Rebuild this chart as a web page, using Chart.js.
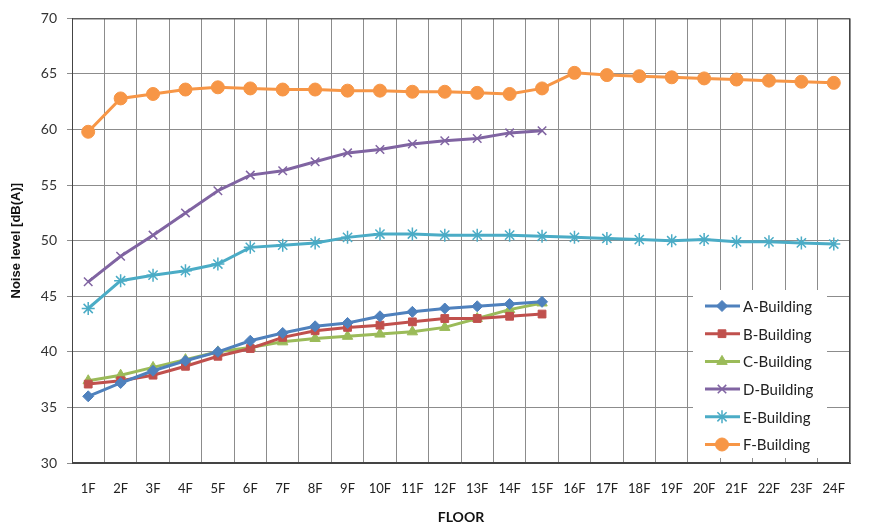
<!DOCTYPE html>
<html>
<head>
<meta charset="utf-8">
<script src="https://cdn.jsdelivr.net/npm/chart.js@4.4.1/dist/chart.umd.min.js"></script>
<style>
  html, body { margin: 0; padding: 0; background: #fff; }
  #wrap { width: 880px; height: 530px; }
</style>
</head>
<body>
<div id="wrap"><canvas id="noiseChart" width="880" height="530"></canvas></div>
<script>
// floor noise levels
var floors = ['1F','2F','3F','4F','5F','6F','7F','8F','9F','10F','11F','12F',
              '13F','14F','15F','16F','17F','18F','19F','20F','21F','22F','23F','24F'];
var yTicks = [30, 35, 40, 45, 50, 55, 60, 65, 70];

var aBuilding = [36.0, 37.2, 38.3, 39.2, 40.0, 41.0, 41.7, 42.3, 42.6, 43.2, 43.6, 43.9, 44.1, 44.3, 44.5];
var bBuilding = [37.1, 37.4, 37.9, 38.7, 39.6, 40.3, 41.3, 41.9, 42.2, 42.4, 42.7, 43.0, 43.0, 43.2, 43.4];
var cBuilding = [37.4, 37.9, 38.6, 39.3, 40.0, 40.4, 40.9, 41.2, 41.4, 41.6, 41.8, 42.2, 43.0, 43.8, 44.4];
var dBuilding = [46.3, 48.6, 50.5, 52.5, 54.5, 55.9, 56.3, 57.1, 57.9, 58.2, 58.7, 59.0, 59.2, 59.7, 59.9];
var eBuilding = [43.9, 46.4, 46.9, 47.3, 47.9, 49.4, 49.6, 49.8, 50.3, 50.6, 50.6, 50.5, 50.5, 50.5, 50.4,
                 50.3, 50.2, 50.1, 50.0, 50.1, 49.9, 49.9, 49.8, 49.7];
var fBuilding = [59.8, 62.8, 63.2, 63.6, 63.8, 63.7, 63.6, 63.6, 63.5, 63.5, 63.4, 63.4, 63.3, 63.2, 63.7,
                 65.1, 64.9, 64.8, 64.7, 64.6, 64.5, 64.4, 64.3, 64.2];

function series(label, data, color, style, radius) {
    return {
        label: label,
        data: data,
        borderColor: color,
        backgroundColor: color,
        pointBackgroundColor: color,
        pointBorderColor: color,
        pointStyle: style,
        pointRadius: radius,
        pointBorderWidth: (style === 'crossRot' || style === 'star') ? 1.5 : 1,
        borderWidth: 3,
        tension: 0
    };
}

var datasets = [
    series('A-Building', aBuilding, '#4F81BD', 'rectRot', 5.5),
    series('B-Building', bBuilding, '#C0504D', 'rect', 5.5),
    series('C-Building', cBuilding, '#9BBB59', 'triangle', 6),
    series('D-Building', dBuilding, '#8064A2', 'crossRot', 6),
    series('E-Building', eBuilding, '#4BACC6', 'star', 6.5),
    series('F-Building', fBuilding, '#F79646', 'circle', 6.5)
];

// plot frame + legend box inside the plot area, like the Excel original
var frameAndLegend = {
    id: 'frameAndLegend',
    afterDatasetsDraw: function(chart) {
        var ctx = chart.ctx, a = chart.chartArea;
        ctx.save();
        ctx.strokeStyle = '#444';
        ctx.lineWidth = 1;
        ctx.strokeRect(a.left + 0.5, a.top + 0.5, a.right - a.left - 1, a.bottom - a.top - 1);

        var bx = 693, by = 290, bw = 134, bh = 168;
        ctx.fillStyle = '#fff';
        ctx.fillRect(bx, by, bw, bh);

        ctx.font = '15px Lato';
        ctx.textBaseline = 'middle';
        chart.data.datasets.forEach(function(ds, i) {
            var y = 306 + i * 27.7;
            ctx.strokeStyle = ds.borderColor;
            ctx.fillStyle = ds.borderColor;
            ctx.lineWidth = 3;
            ctx.beginPath();
            ctx.moveTo(705, y);
            ctx.lineTo(740, y);
            ctx.stroke();
            ctx.lineWidth = ds.pointBorderWidth;
            Chart.helpers.drawPoint(ctx, { pointStyle: ds.pointStyle, radius: ds.pointRadius, rotation: 0, borderWidth: ds.pointBorderWidth }, 722, y);
            ctx.fillStyle = '#222';
            ctx.fillText(ds.label, 743, y + 1);
        });
        ctx.restore();
    }
};

new Chart(document.getElementById('noiseChart').getContext('2d'), {
    type: 'line',
    data: { labels: floors, datasets: datasets },
    options: {
        responsive: false,
        animation: false,
        layout: { padding: { top: 14, right: 30, left: 0, bottom: 0 } },
        plugins: { legend: { display: false }, tooltip: { enabled: false } },
        scales: {
            x: {
                type: 'category',
                offset: true,
                grid: { color: '#8c8c8c', offset: true, drawTicks: false },
                border: { color: '#444' },
                ticks: { color: '#222', font: { family: 'Lato', size: 13 }, padding: 18, maxRotation: 0, autoSkip: false },
                title: { display: true, text: 'FLOOR', color: '#111', font: { family: 'Lato', size: 14, weight: 'bold' }, padding: { top: 6, bottom: 4 } },
                afterFit: function(scale) { scale.height = 67; }
            },
            y: {
                min: yTicks[0],
                max: yTicks[yTicks.length - 1],
                afterBuildTicks: function(scale) { scale.ticks = yTicks.map(function(v) { return { value: v }; }); },
                grid: { color: '#8c8c8c', tickLength: 5 },
                border: { color: '#444' },
                ticks: { color: '#333', font: { family: 'Lato', size: 14 }, padding: 10 },
                title: { display: true, text: 'Noise level [dB(A)]', color: '#111', font: { family: 'Liberation Sans', size: 13, weight: 'bold' }, padding: { top: 9, bottom: 4 } },
                afterFit: function(scale) { scale.width = 72; }
            }
        }
    },
    plugins: [frameAndLegend]
});
</script>
</body>
</html>
